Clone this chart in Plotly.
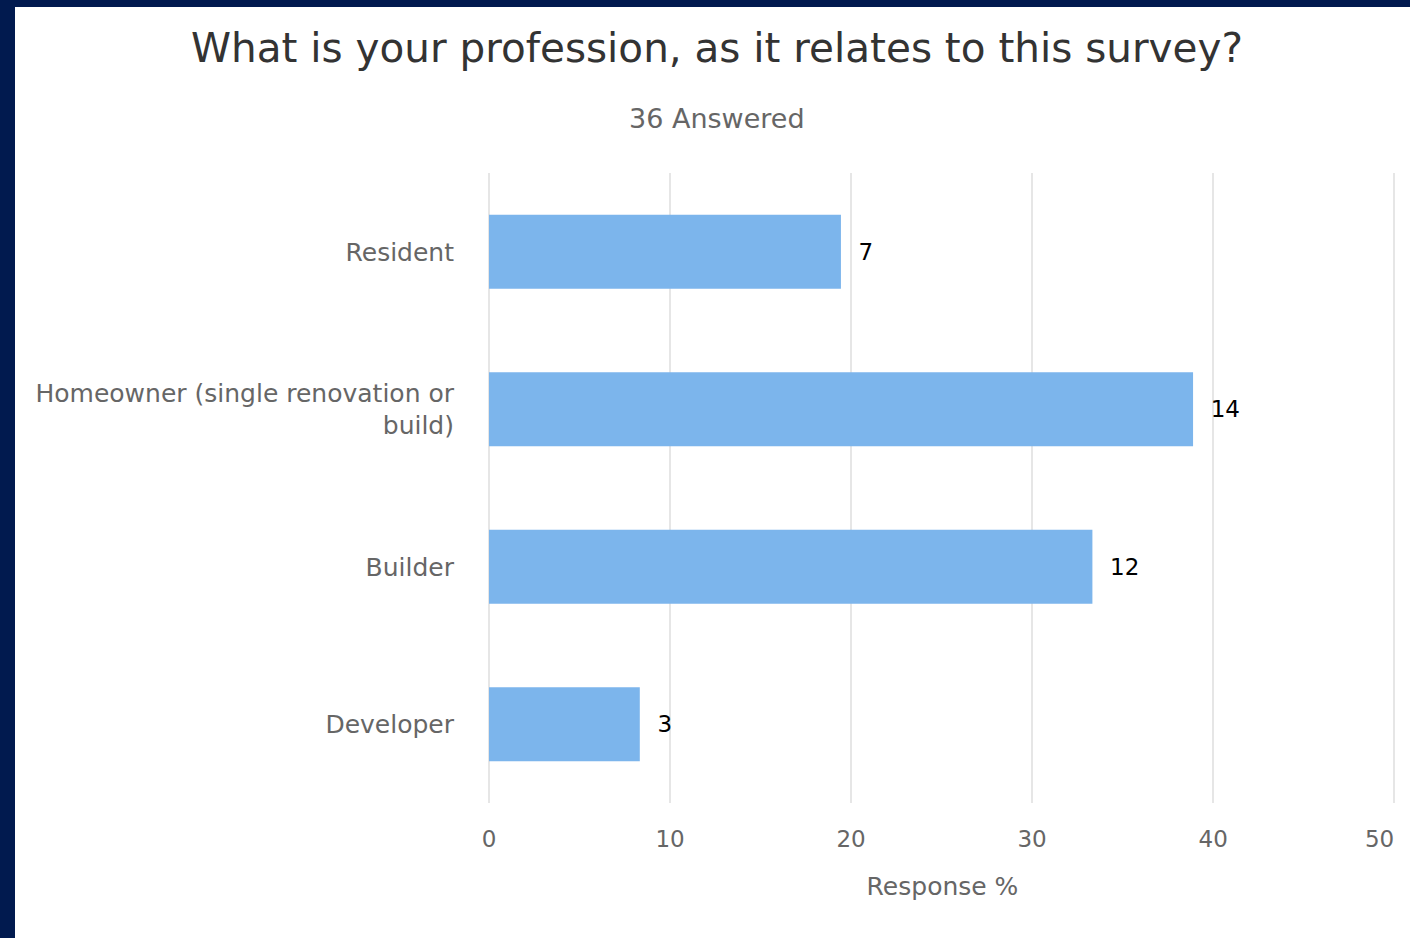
import plotly.graph_objects as go

categories = ["Resident", "Homeowner (single renovation or<br>build)", "Builder", "Developer"]
counts = [7, 14, 12, 3]
percents = [19.44, 38.89, 33.33, 8.33]
x_ticks = [0, 10, 20, 30, 40, 50]
x_tick_labels = ["0", "10", "20", "30", "40", ""]
x_last_tick = [50]
x_last_label = ["50"]
title_text = "What is your profession, as it relates to this survey?"
subtitle_text = "36 Answered"
x_title = "Response %"

W, H = 1410, 938
L, R, T, B = 489, 14, 173, 135
pw, ph = W - L - R, H - T - B
FONT = "DejaVu Sans"
X_RANGE = [0, 50.1]

def px_x(x):
    return (x - L) / pw

def px_y(y):
    return (H - B - y) / ph

fig = go.Figure()
fig.add_trace(go.Bar(
    y=categories, x=percents, orientation="h",
    marker=dict(color="#7cb5ec", line=dict(width=0)),
    width=0.47,
    text=[str(c) for c in counts], textposition="outside",
    texttemplate="\u00a0\u00a0%{text}",
    textfont=dict(family=FONT, size=23, color="#000000"),
    cliponaxis=False, hoverinfo="skip",
))
# invisible companion trace so the overlay axis (carrying the last tick label) is drawn
fig.add_trace(go.Scatter(
    y=categories, x=percents, xaxis="x2", mode="markers",
    marker=dict(size=1, opacity=0), hoverinfo="skip", showlegend=False,
))

tickfont = dict(family=FONT, size=23, color="#666666")

fig.update_layout(
    width=W, height=H,
    margin=dict(l=L, r=R, t=T, b=B, pad=0, autoexpand=False),
    paper_bgcolor="#011a4f", plot_bgcolor="white",
    showlegend=False,
    title=dict(text=title_text, x=717 / W, xref="container", xanchor="center",
               y=1 - 48 / H, yref="container", yanchor="middle",
               font=dict(family=FONT, size=40.5, color="#333333")),
    xaxis=dict(range=X_RANGE, tickvals=x_ticks, ticktext=x_tick_labels,
               automargin=False,
               showgrid=True, gridcolor="#e6e6e6",
               gridwidth=1.5, zeroline=True, zerolinecolor="#e6e6e6", zerolinewidth=1.5,
               showline=False,
               tickfont=tickfont,
               ticklabelstandoff=20,
               title=dict(text=x_title, standoff=26,
                          font=dict(family=FONT, size=25, color="#666666"))),
    xaxis2=dict(range=X_RANGE, overlaying="x", side="bottom", anchor="y",
                tickvals=x_last_tick, ticktext=x_last_label,
                ticklabelposition="outside left", automargin=False,
                showgrid=False, zeroline=False, showline=False,
                tickfont=tickfont, ticklabelstandoff=20),
    yaxis=dict(autorange="reversed", automargin=False,
               showgrid=False, zeroline=False, showline=False,
               tickfont=dict(family=FONT, size=25, color="#666666"),
               ticklabelstandoff=34),
    bargap=0.53,
    shapes=[dict(type="rect", xref="paper", yref="paper", layer="below",
                 x0=px_x(15), x1=px_x(W + 5), y0=px_y(H + 5), y1=px_y(7),
                 fillcolor="white", line=dict(width=0))],
    annotations=[dict(text=subtitle_text, xref="paper", yref="paper",
                      x=px_x(717), y=px_y(118), xanchor="center", yanchor="middle",
                      showarrow=False,
                      font=dict(family=FONT, size=27, color="#666666"))],
)

fig.write_html("out.html", config={"displayModeBar": False, "staticPlot": True},
               post_script="document.body.style.margin='0';document.body.style.overflow='hidden';document.body.style.background='#011a4f';")
